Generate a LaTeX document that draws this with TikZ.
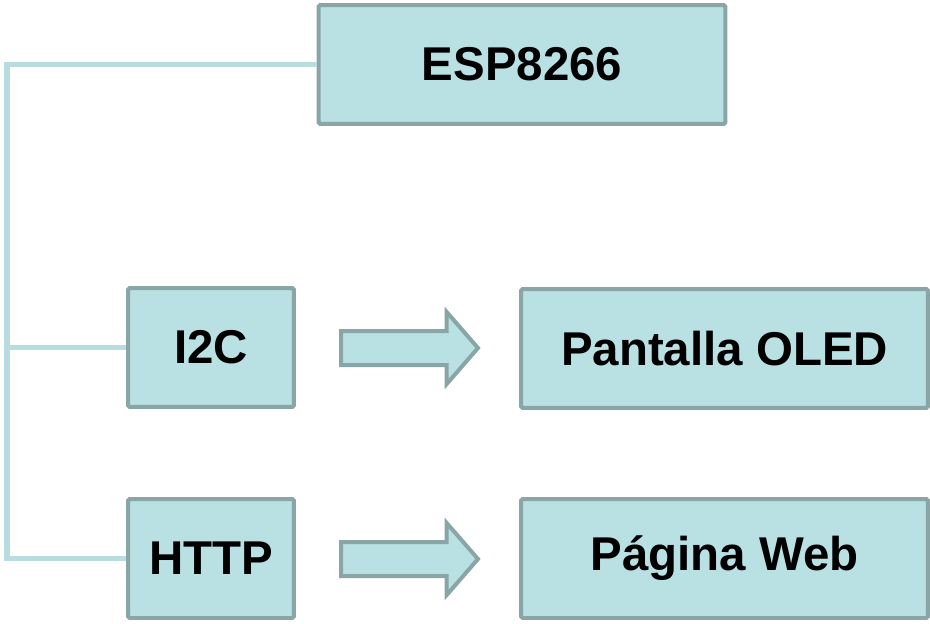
\documentclass[tikz,border=0pt]{standalone}
\usepackage{fontspec}
\setmainfont{Liberation Sans}
\usetikzlibrary{shapes.arrows}

\definecolor{boxfill}{HTML}{B9E0E3}
\definecolor{boxedge}{HTML}{8AA5A6}
\definecolor{linkcol}{HTML}{B7DDE1}

\begin{document}
\begin{tikzpicture}[x = 0.02cm, y = -0.02cm,
    block/.style = {draw = boxedge, fill = boxfill, line width = 0.08cm,
        rounded corners = 1pt, inner sep = 0pt,
        font = \fontsize{27}{32}\selectfont\bfseries},
    wide/.style = {block, minimum width = 8.14cm, minimum height = 2.38cm},
    narrow/.style = {block, minimum width = 3.32cm, minimum height = 2.38cm},
    link/.style = {draw = linkcol, line width = 0.11cm},
    linkshadow/.style = {draw = black!40, opacity = 0.6, line width = 0.11cm},
    fatarrow/.style = {single arrow, draw = boxedge, fill = boxfill,
        line width = 0.08cm, minimum height = 2.74cm,
        inner xsep = 0pt, inner ysep = 0.3cm,
        single arrow head extend = 0.38cm, single arrow tip angle = 98,
        anchor = west}
]

        \useasboundingbox (0, 0) rectangle (930, 623);

        % Positions of the bus and the boxes.
        \coordinate (bus) at (7, 64.5);
        \node[wide] (esp) at (522, 64.5) {ESP8266};
        \node[narrow] (i2c) at (211, 347.5) {I2C};
        \node[narrow] (http) at (211, 558.5) {HTTP};
        \node[wide] (oled) at (724.5, 348.5) {Pantalla OLED};
        \node[wide] (web) at (724.5, 558.5) {Página Web};

        % The bus from the ESP8266 down to the two protocols.
        \begin{scope}[shift = {(1, 2.5)}]
            \draw[linkshadow] (esp.west) -- (bus) |- (http.west);
            \draw[linkshadow] (i2c.west) -- (i2c.west -| bus);
        \end{scope}
        \draw[link] (esp.west) -- (bus) |- (http.west);
        \draw[link] (i2c.west) -- (i2c.west -| bus);

        % Block arrows towards the outputs.
        \node[fatarrow] (arrI2c) at (339, 348) {};
        \node[fatarrow] (arrHttp) at (339, 559) {};
    \end{tikzpicture}
\end{document}
